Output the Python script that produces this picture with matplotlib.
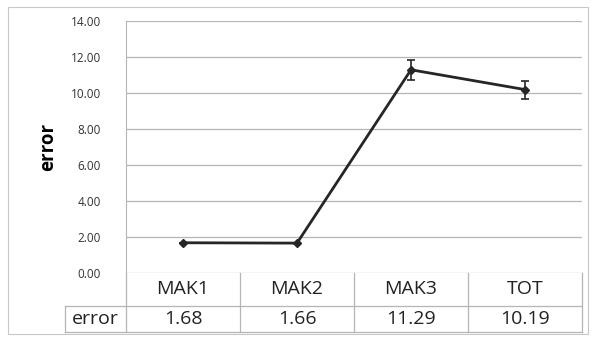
import matplotlib.pyplot as plt
from matplotlib.patches import Rectangle
from matplotlib.transforms import blended_transform_factory

categories = ['MAK1', 'MAK2', 'MAK3', 'TOT']
error = [1.68, 1.66, 11.29, 10.19]
spread = [0.0, 0.0, 0.56, 0.50]
yticks = [0, 2, 4, 6, 8, 10, 12, 14]

plt.rcParams['font.family'] = ['Open Sans', 'DejaVu Sans']

fig = plt.figure(figsize=(5.94, 3.38), dpi=100)
# light outer frame of the chart
fig.patches.append(Rectangle((8/594, 1-334/338), 580/594, 327/338, transform=fig.transFigure,
                             fill=False, edgecolor='#c8c8c8', linewidth=0.8))

ax = fig.add_axes([126/594, 1-273/338, 456/594, 252/338])
x = range(len(categories))
ax.errorbar(x, error, yerr=spread, color='#262626', linewidth=2, marker='D', markersize=4,
            capsize=3, elinewidth=1.2, capthick=1.2)
ax.set_xlim(-0.5, len(categories)-0.5)
ax.set_ylim(0, 14)
ax.set_yticks(yticks)
ax.set_yticklabels(['%.2f' % t for t in yticks], fontsize=8.5, color='#333333')
ax.set_xticks([])
ax.grid(True, axis='y', color='#b5b5b5', linewidth=0.9)
ax.set_axisbelow(True)
ax.tick_params(axis='y', length=0, pad=18)
for s in ['top', 'right', 'bottom']:
    ax.spines[s].set_visible(False)
ax.spines['left'].set_color('#b5b5b5')
ax.set_ylabel('error', fontsize=13.5, fontweight='bold', labelpad=9)

# data table under the axis
tr = blended_transform_factory(ax.transData, ax.transAxes)
n = len(categories)
h1, h2 = -33/252, -59/252
lab_x = -0.5 - 61/114
lc = dict(color='#b5b5b5', linewidth=0.9, transform=tr, clip_on=False)
for k in range(n + 1):
    ax.plot([k - 0.5, k - 0.5], [0, h2], **lc)
ax.plot([lab_x, lab_x], [h1, h2], **lc)
ax.plot([lab_x, n - 0.5], [h1, h1], **lc)
ax.plot([lab_x, n - 0.5], [h2, h2], **lc)
for i, c in enumerate(categories):
    ax.text(i, h1/2, c, transform=tr, ha='center', va='center', fontsize=14, color='#222222')
    ax.text(i, (h1+h2)/2, '%.2f' % error[i], transform=tr, ha='center', va='center',
            fontsize=14, color='#222222')
ax.text((lab_x - 0.5)/2, (h1+h2)/2, 'error', transform=tr, ha='center', va='center',
        fontsize=14, color='#222222')

fig.savefig('out.png', dpi=100)
